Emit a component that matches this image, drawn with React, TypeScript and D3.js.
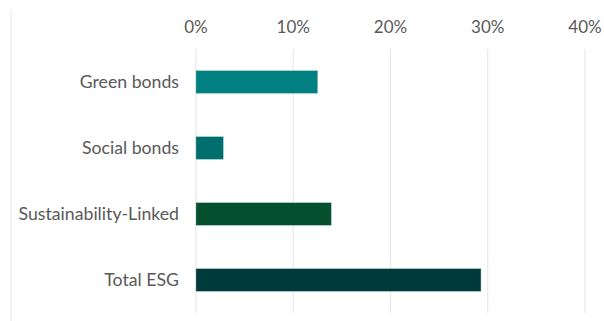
import React from "react";
import * as d3 from "d3";

const categories = ["Green bonds", "Social bonds", "Sustainability-Linked", "Total ESG"];
const values = [12.5, 2.8, 13.9, 29.3];
const barColors = ["#008080", "#006E6C", "#04502F", "#013A3A"];
const tickValues = [0, 10, 20, 30, 40];

const W = 604;
const H = 321;

export default function App() {
  const x = d3.scaleLinear().domain([0, 40]).range([196, 585]);
  const y = d3.scaleBand<string>().domain(categories).range([49, 313]).paddingInner(0.66).paddingOuter(0.33);
  const font = "Lato, 'Open Sans', sans-serif";
  return (
    <svg width={W} height={H} style={{ position: "absolute", left: 0, top: 0, background: "#fff" }}>
      <line x1={11} x2={11} y1={9} y2={H} stroke="#e6e6e6" strokeWidth={1} />
      {tickValues.map((t) => (
        <g key={t}>
          <line x1={x(t)} x2={x(t)} y1={49} y2={313} stroke="#e3e3e3" strokeWidth={1} />
          <text x={x(t)} y={33} textAnchor="middle" fontFamily={font} fontSize={17} fill="#595959">
            {t + "%"}
          </text>
        </g>
      ))}
      {categories.map((c, i) => (
        <g key={c}>
          <rect
            x={x(0)}
            y={y(c)!}
            width={x(values[i]) - x(0)}
            height={y.bandwidth()}
            fill={barColors[i]}
            stroke="#7fb0ad"
            strokeWidth={0.4}
          />
          <text
            x={179}
            y={y(c)! + y.bandwidth() / 2}
            dy="0.35em"
            textAnchor="end"
            fontFamily={font}
            fontSize={17.7}
            fill="#595959"
          >
            {c}
          </text>
        </g>
      ))}
    </svg>
  );
}
